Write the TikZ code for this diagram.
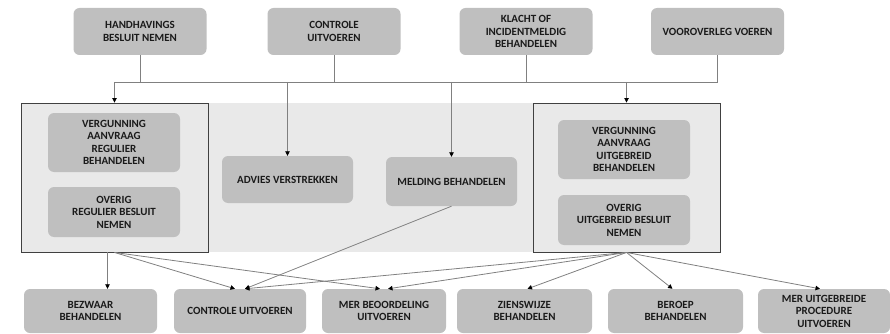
\documentclass[tikz,border=0pt]{standalone}
\usepackage{fontspec}
\setmainfont{Carlito}[BoldFont={Carlito Bold}]
\usetikzlibrary{arrows.meta}
\definecolor{boxgray}{HTML}{BFBFBF}
\definecolor{stonegray}{HTML}{E9E9E9}
\definecolor{linegray}{HTML}{808080}
\definecolor{txtdark}{HTML}{1A1A1A}
\tikzset{
  proc/.style={fill=boxgray,rounded corners=6pt,align=center,inner sep=0pt,
    text=txtdark,font=\fontsize{11}{12.5}\selectfont\bfseries,
    minimum width=133pt,minimum height=47pt},
  grp/.style={draw=black!75,line width=0.9pt,fill=stonegray,inner sep=0pt,
    minimum width=187pt,minimum height=149pt},
  conn/.style={draw=linegray,line width=0.8pt},
  arr/.style={conn,-{Triangle[length=4.5pt,width=4.5pt,color=black]}}
}
\begin{document}
\begin{tikzpicture}[x=1pt,y=-1pt]
\useasboundingbox (0,0) rectangle (890,334);

% stone background
\fill[stonegray] (21,103) rectangle (720,252);
\node[grp] (lgrp) at (114.5,177.5) {};
\node[grp] (rgrp) at (626.5,177.5) {};

% top row
\node[proc] (hbn) at (140,31.5) {HANDHAVINGS\\BESLUIT NEMEN};
\node[proc] (cut) at (334,31.5) {CONTROLE\\UITVOEREN};
\node[proc] (kib) at (526,31.5) {KLACHT OF\\INCIDENTMELDIG\\BEHANDELEN};
\node[proc] (vvo) at (717.5,31.5) {VOOROVERLEG VOEREN};

% middle row
\node[proc,minimum width=132pt,minimum height=59pt] (vrb) at (114,142.5) {VERGUNNING\\AANVRAAG\\REGULIER\\BEHANDELEN};
\node[proc,minimum width=132pt,minimum height=50pt] (orb) at (114,212) {OVERIG\\REGULIER BESLUIT\\NEMEN};
\node[proc,minimum width=131pt] (avs) at (287.5,179.5) {ADVIES VERSTREKKEN};
\node[proc,minimum width=131pt,minimum height=49pt] (mbh) at (451.5,181.5) {MELDING BEHANDELEN};
\node[proc,minimum width=132pt,minimum height=59pt] (vub) at (624,149.5) {VERGUNNING\\AANVRAAG\\UITGEBREID\\BEHANDELEN};
\node[proc,minimum width=132pt,minimum height=50pt] (oub) at (624,220) {OVERIG\\UITGEBREID BESLUIT\\NEMEN};

% bottom row
\node[proc,minimum height=44pt] (bzb) at (90.5,311) {BEZWAAR\\BEHANDELEN};
\node[proc,minimum width=132pt,minimum height=44pt] (cub) at (240,311) {CONTROLE UITVOEREN};
\node[proc,minimum width=124pt,minimum height=44pt] (mbu) at (384,311) {MER BEOORDELING\\UITVOEREN};
\node[proc,minimum width=135pt,minimum height=44pt] (zwb) at (524.5,311) {ZIENSWIJZE\\BEHANDELEN};
\node[proc,minimum width=135pt,minimum height=44pt] (bpb) at (675.5,311) {BEROEP\\BEHANDELEN};
\node[proc,minimum width=132pt,minimum height=44pt] (mup) at (824,311) {MER UITGEBREIDE\\PROCEDURE\\UITVOEREN};

% bus
\coordinate (busL) at (115,82);
\coordinate (busR) at (718,82);
\draw[conn] (busL) -- (busR);
\foreach \n in {hbn,cut,kib,vvo}
  \draw[conn] (\n.south) -- (\n.south |- busL);
\draw[arr] (lgrp.north |- busL) -- (lgrp.north);
\draw[arr] (avs.north |- busL) -- (avs.north);
\draw[arr] (mbh.north |- busL) -- (mbh.north);
\draw[arr] (rgrp.north |- busL) -- (rgrp.north);

% outgoing
\draw[arr] ([xshift=-7pt]lgrp.south) -- ([xshift=-7pt]lgrp.south |- bzb.north);
\draw[arr] (lgrp.south) -- ([xshift=-5pt]cub.north);
\draw[arr] (lgrp.south) -- ([xshift=-4pt]mbu.north);
\draw[arr] (mbh.south) -- ([xshift=5pt]cub.north);
\draw[arr] (rgrp.south) -- ([xshift=5pt]cub.north);
\draw[arr] (rgrp.south) -- ([xshift=4pt]mbu.north);
\draw[arr] (rgrp.south) -- ([xshift=3pt]zwb.north);
\draw[arr] (rgrp.south) -- ([xshift=-3pt]bpb.north);
\draw[arr] (rgrp.south) -- ([xshift=-4pt]mup.north);
\end{tikzpicture}
\end{document}
